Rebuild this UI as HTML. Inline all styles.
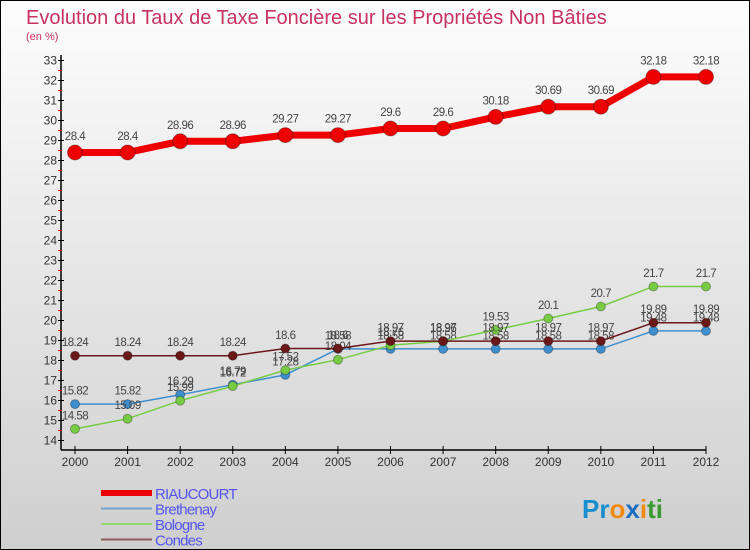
<!DOCTYPE html>
<html><head><meta charset="utf-8"><style>
body{margin:0}
svg{display:block;font-family:"Liberation Sans",sans-serif}
</style></head><body>
<svg width="750" height="550" viewBox="0 0 750 550">
<defs><linearGradient id="bg" x1="0" y1="0" x2="0" y2="1"><stop offset="0" stop-color="#fdfdfd"/><stop offset="1" stop-color="#cfcfcf"/></linearGradient></defs>
<rect x="0.5" y="0.5" width="749" height="549" fill="url(#bg)" stroke="#000"/>
<text x="26" y="24" font-size="20" fill="#c8325f">Evolution du Taux de Taxe Foncière sur les Propriétés Non Bâties</text>
<text x="26" y="40" font-size="11" fill="#c8325f">(en %)</text>
<g id="axes"></g>
<g id="series"></g>
<g id="legend"></g>
<text x="582" y="518" font-size="26" font-weight="bold"><tspan fill="#1a8fd0">Pr</tspan><tspan fill="#f08a10">o</tspan><tspan fill="#1a6fc0">x</tspan><tspan fill="#f08a10">i</tspan><tspan fill="#3a9a30">ti</tspan></text>
</svg>
<script>
const years=[2000,2001,2002,2003,2004,2005,2006,2007,2008,2009,2010,2011,2012];
const yTicks=[14,15,16,17,18,19,20,21,22,23,24,25,26,27,28,29,30,31,32,33];
const riaucourt=[28.4,28.4,28.96,28.96,29.27,29.27,29.6,29.6,30.18,30.69,30.69,32.18,32.18];
const brethenay=[15.82,15.82,16.29,16.79,17.28,18.58,18.58,18.58,18.58,18.58,18.58,19.48,19.48];
const bologne=[14.58,15.09,15.99,16.72,17.52,18.04,18.76,18.96,19.53,20.1,20.7,21.7,21.7];
const condes=[18.24,18.24,18.24,18.24,18.6,18.6,18.97,18.97,18.97,18.97,18.97,19.89,19.89];
const NS='http://www.w3.org/2000/svg';
function X(i){return 75+i*(706-75)/(years.length-1);}
function Y(v){return 440.5-(v-14)*20;}
function mk(tag,attrs,parent,txt){const e=document.createElementNS(NS,tag);for(const k in attrs)e.setAttribute(k,attrs[k]);if(txt!==undefined)e.textContent=txt;parent.appendChild(e);return e;}
const ax=document.getElementById('axes');
let e=mk('line',{x1:61,y1:55,x2:61,y2:450,stroke:'#000','stroke-width':1.5},ax);


e=mk('line',{x1:61,y1:450,x2:706,y2:450,stroke:'#000','stroke-width':1.5},ax);


yTicks.forEach(t=>{
 mk('line',{x1:58,y1:Y(t),x2:64,y2:Y(t),stroke:'#000'},ax);
 if(t<33) mk('line',{x1:58,y1:Y(t+0.5),x2:62,y2:Y(t+0.5),stroke:'#e00'},ax);
 const l=mk('text',{x:57,y:Y(t)+4,'font-size':12,fill:'#333','text-anchor':'end'},ax,String(t));
 
 
});
years.forEach((yr,i)=>{
 mk('line',{x1:X(i),y1:446,x2:X(i),y2:454,stroke:'#000'},ax);
 const l=mk('text',{x:X(i),y:466,'font-size':12,fill:'#333','text-anchor':'middle'},ax,String(yr));
 
 
});
const sg=document.getElementById('series');
function draw(name,vals,color,w,r){
 const g=mk('g',{},sg);
 
 
 const p=mk('polyline',{points:vals.map((v,i)=>X(i)+','+Y(v)).join(' '),fill:'none',stroke:color,'stroke-width':w,'stroke-linejoin':'round'},g);
 
 
 vals.forEach((v,i)=>{
  const c=mk('circle',{cx:X(i),cy:Y(v),r:r,fill:color,stroke:'rgba(0,0,0,0.3)','stroke-width':1},g);
  
  
  const t=mk('text',{x:X(i),y:Y(v)-(r+5),'font-size':11.5,fill:'#444','text-anchor':'middle','letter-spacing':'-0.5'},g,String(v));
  
  
 });
}
draw('brethenay',brethenay,'#3d8fd0',1.5,4.5);
draw('bologne',bologne,'#77cc44',1.5,4.5);
draw('condes',condes,'#6b1818',1.5,4.5);
draw('riaucourt',riaucourt,'#ee0000',7,7.5);
const lg=document.getElementById('legend');
const items=[['RIAUCOURT','#ee0000',6],['Brethenay','#6fa6d0',2],['Bologne','#99d877',2],['Condes','#8a5c5c',2]];
items.forEach((it,k)=>{
 const y=493+k*15.5;
 const g=mk('g',{},lg);
 
 
 mk('line',{x1:101,y1:y,x2:152,y2:y,stroke:it[1],'stroke-width':it[2]},g);
 mk('text',{x:155,y:y+6,'font-size':15,fill:'#5555ee','letter-spacing':'-0.8'},g,it[0]);
});
</script>
</body></html>
